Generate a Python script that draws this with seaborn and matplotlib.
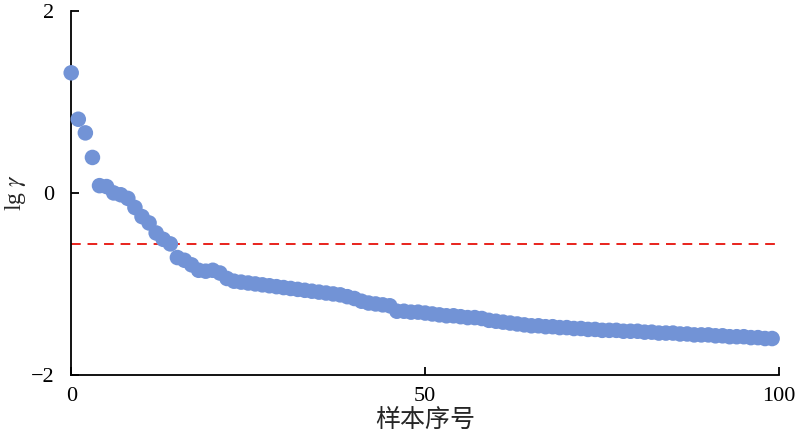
import numpy as np
import pandas as pd
import seaborn as sns
import matplotlib.pyplot as plt

# 数据：样本序号与 lg γ
sample_idx = list(range(100))
lg_gamma = [
    1.32, 0.81, 0.66, 0.39, 0.08, 0.07, 0.00, -0.02, -0.06, -0.16,
    -0.26, -0.33, -0.44, -0.51, -0.56, -0.71, -0.74, -0.79, -0.85, -0.86,
    -0.85, -0.88, -0.94, -0.97, -0.98, -0.99, -1.00, -1.01, -1.02, -1.03,
    -1.04, -1.05, -1.06, -1.07, -1.08, -1.09, -1.10, -1.11, -1.12, -1.14,
    -1.16, -1.19, -1.21, -1.22, -1.23, -1.24, -1.30, -1.30, -1.31, -1.31,
    -1.32, -1.33, -1.34, -1.35, -1.35, -1.36, -1.37, -1.37, -1.38, -1.40,
    -1.41, -1.42, -1.43, -1.44, -1.45, -1.46, -1.46, -1.47, -1.47, -1.48,
    -1.48, -1.49, -1.49, -1.50, -1.50, -1.51, -1.51, -1.51, -1.52, -1.52,
    -1.52, -1.53, -1.53, -1.54, -1.54, -1.54, -1.55, -1.55, -1.56, -1.56,
    -1.56, -1.57, -1.57, -1.58, -1.58, -1.58, -1.59, -1.59, -1.60, -1.60,
]
threshold = -0.56
x_ticks = [0, 50, 100]
y_ticks = [-2, 0, 2]

df = pd.DataFrame({'idx': sample_idx, 'lg': lg_gamma})

sns.set_style('ticks')
plt.rcParams['font.family'] = ['Liberation Serif', 'Noto Sans CJK SC']
plt.rcParams['mathtext.fontset'] = 'stix'
plt.rcParams['xtick.direction'] = 'in'
plt.rcParams['ytick.direction'] = 'in'
plt.rcParams['axes.unicode_minus'] = True

fig = plt.figure(figsize=(8, 4.38), dpi=100)
ax = fig.add_axes([0.089, 0.144, 0.885, 0.831])

sns.scatterplot(data=df, x='idx', y='lg', ax=ax, s=125, color='#7293d6',
                edgecolor='none', alpha=1.0, clip_on=False, zorder=3)
ax.axhline(threshold, color='#e8221c', linestyle=(0, (5, 3.5)), linewidth=1.4, zorder=2)

ax.set_xlim(0, 100)
ax.set_ylim(-2, 2)
ax.set_xticks(x_ticks)
ax.set_yticks(y_ticks)
ax.set_xticklabels([str(t) for t in x_ticks])
ax.set_yticklabels(['\u22122', '0', '2'])
ax.tick_params(labelsize=16, length=6, width=1.3, colors='black')
ax.tick_params(axis='x', pad=9)
ax.tick_params(axis='y', pad=12)
for side in ['top', 'right']:
    ax.spines[side].set_visible(False)
for side in ['left', 'bottom']:
    ax.spines[side].set_linewidth(1.3)
    ax.spines[side].set_color('black')

ax.set_xlabel('样本序号', fontsize=18, labelpad=2)
ax.set_ylabel(r'lg $\gamma$', fontsize=17, labelpad=2)

plt.savefig('out.png', dpi=100)
